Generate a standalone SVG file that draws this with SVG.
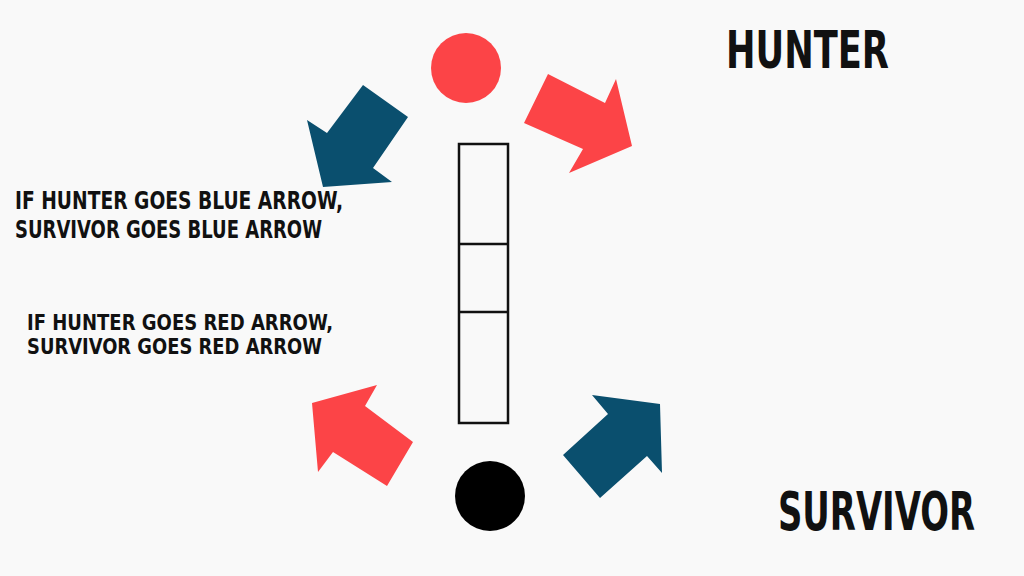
<svg xmlns="http://www.w3.org/2000/svg" width="1024" height="576" viewBox="0 0 1024 576">
<style>
.red{fill:#fc4447}
.blue{fill:#0a4f6e}
.box{fill:none;stroke:#111;stroke-width:2.5}
.t{font-family:"Liberation Sans Narrow","DejaVu Sans Condensed","Liberation Sans",sans-serif;font-weight:bold;fill:#111}
</style>
<rect width="1024" height="576" fill="#f9f9f9"/>
<g id="hunter-dot"><circle cx="466" cy="68" r="35" class="red"/></g>
<g id="survivor-dot"><circle cx="490" cy="496" r="35" fill="#000"/></g>
<g id="wall">
<rect x="459" y="144" width="49" height="279" class="box"/>
<line x1="459" y1="244" x2="508" y2="244" class="box"/>
<line x1="459" y1="312" x2="508" y2="312" class="box"/>
</g>
<g id="connectors">
<polygon id="arrow-blue-tl" class="blue" points="363,85 408,117 373,168 392,182 323,187 307,120 327,133"/>
<polygon id="arrow-red-tr" class="red" points="548,74 605,103 616,79 632,146 569,173 583,149 524,123"/>
<polygon id="arrow-red-bl" class="red" points="413,442 387,486 333,452 318,472 312,403 377,385 365,406"/>
<polygon id="arrow-blue-br" class="blue" points="563,455 608,414 592,395 660,404 662,473 647,456 600,498"/>
</g>
<g id="label-hunter"><text class="t" x="726" y="68" font-size="52" textLength="163" lengthAdjust="spacingAndGlyphs">HUNTER</text></g>
<g id="label-survivor"><text class="t" x="778" y="530" font-size="53" textLength="197" lengthAdjust="spacingAndGlyphs">SURVIVOR</text></g>
<g id="note-blue">
<text class="t" x="15" y="209" font-size="24" textLength="328" lengthAdjust="spacingAndGlyphs">IF HUNTER GOES BLUE ARROW,</text>
<text class="t" x="15" y="238" font-size="24" textLength="307" lengthAdjust="spacingAndGlyphs">SURVIVOR GOES BLUE ARROW</text>
</g>
<g id="note-red">
<text class="t" x="27" y="330" font-size="22" textLength="306" lengthAdjust="spacingAndGlyphs">IF HUNTER GOES RED ARROW,</text>
<text class="t" x="27" y="354" font-size="22" textLength="295" lengthAdjust="spacingAndGlyphs">SURVIVOR GOES RED ARROW</text>
</g>
</svg>
